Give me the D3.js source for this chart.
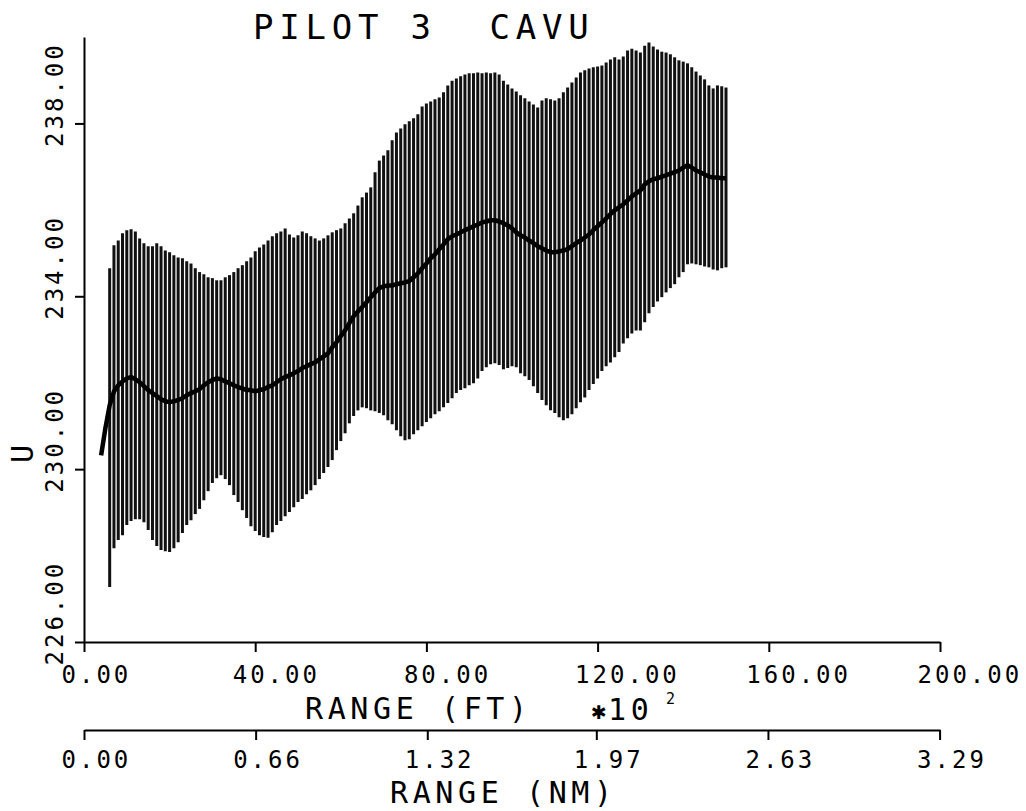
<!DOCTYPE html>
<html>
<head>
<meta charset="utf-8">
<script src="https://cdn.jsdelivr.net/npm/d3@7"></script>
<style>
  html, body { margin: 0; padding: 0; background: #fff; }
  svg { display: block; }
  .plot-text { font-family: "DejaVu Sans Mono", "Liberation Mono", monospace; fill: #000; }
  .axis path, .axis line { stroke: #000; stroke-width: 2; }
  .axis text { font-family: "DejaVu Sans Mono", "Liberation Mono", monospace; font-size: 24px; letter-spacing: 3px; fill: #000; }
</style>
</head>
<body>
<svg id="chart" width="1026" height="811"></svg>
<script>
// Range samples, one every 100 ft (range axis is in units of 100 ft).
const firstBarRange = 6;
const firstMeanRange = 4;

// Top of each vertical spread line, U values.
const upperU = [
  234.65, 235.18, 235.29, 235.46, 235.53, 235.55, 235.50, 235.34, 235.23, 235.16,
  235.16, 235.23, 235.16, 235.06, 235.02, 234.95, 234.90, 234.88, 234.81, 234.76,
  234.65, 234.56, 234.51, 234.44, 234.42, 234.37, 234.37, 234.44, 234.49, 234.56,
  234.65, 234.72, 234.81, 234.90, 235.04, 235.13, 235.20, 235.29, 235.39, 235.46,
  235.50, 235.57, 235.43, 235.36, 235.41, 235.50, 235.46, 235.39, 235.34, 235.29,
  235.34, 235.41, 235.48, 235.53, 235.57, 235.69, 235.80, 235.92, 236.10, 236.29,
  236.40, 236.52, 236.87, 237.14, 237.26, 237.38, 237.61, 237.79, 237.88, 237.98,
  238.05, 238.12, 238.21, 238.39, 238.46, 238.51, 238.56, 238.60, 238.72, 238.88,
  238.99, 239.04, 239.09, 239.13, 239.16, 239.16, 239.18, 239.16, 239.18, 239.16,
  239.18, 239.13, 238.99, 238.90, 238.81, 238.74, 238.65, 238.58, 238.51, 238.44,
  238.37, 238.53, 238.58, 238.56, 238.53, 238.58, 238.72, 238.83, 238.95, 239.06,
  239.18, 239.23, 239.27, 239.30, 239.32, 239.34, 239.41, 239.48, 239.53, 239.48,
  239.55, 239.69, 239.73, 239.69, 239.64, 239.80, 239.87, 239.78, 239.71, 239.66,
  239.64, 239.60, 239.53, 239.46, 239.43, 239.39, 239.30, 239.20, 239.11, 239.02,
  238.88, 238.81, 238.88, 238.86, 238.83
];

// Bottom of each vertical spread line, U values.
const lowerU = [
  227.27, 228.17, 228.36, 228.47, 228.71, 228.80, 228.84, 228.84, 228.77, 228.59,
  228.36, 228.22, 228.13, 228.10, 228.08, 228.17, 228.31, 228.52, 228.71, 228.82,
  228.96, 229.08, 229.28, 229.49, 229.68, 229.79, 229.86, 229.77, 229.63, 229.40,
  229.24, 229.05, 228.87, 228.68, 228.57, 228.47, 228.43, 228.41, 228.54, 228.71,
  228.80, 228.91, 229.01, 229.12, 229.24, 229.31, 229.42, 229.51, 229.63, 229.77,
  229.91, 230.05, 230.21, 230.44, 230.65, 230.83, 231.06, 231.23, 231.36, 231.43,
  231.41, 231.36, 231.34, 231.30, 231.25, 231.13, 231.04, 230.90, 230.76, 230.67,
  230.69, 230.81, 230.90, 230.99, 231.09, 231.18, 231.27, 231.34, 231.43, 231.53,
  231.64, 231.76, 231.83, 231.87, 231.94, 231.99, 232.10, 232.27, 232.36, 232.43,
  232.45, 232.41, 232.31, 232.34, 232.38, 232.36, 232.22, 232.15, 232.06, 231.92,
  231.76, 231.60, 231.48, 231.36, 231.30, 231.20, 231.13, 231.18, 231.27, 231.41,
  231.55, 231.66, 231.83, 231.97, 232.10, 232.27, 232.38, 232.47, 232.59, 232.71,
  232.91, 233.03, 233.14, 233.21, 233.21, 233.40, 233.61, 233.75, 233.88, 233.98,
  234.09, 234.19, 234.28, 234.44, 234.56, 234.74, 234.76, 234.74, 234.72, 234.69,
  234.67, 234.62, 234.60, 234.65, 234.67
];

// Mean U along the run.
const meanU = [
  230.32, 230.95, 231.48, 231.80, 231.94, 232.03, 232.10, 232.13, 232.08, 232.01,
  231.92, 231.83, 231.76, 231.69, 231.62, 231.57, 231.55, 231.57, 231.60, 231.64,
  231.71, 231.76, 231.80, 231.85, 231.94, 232.01, 232.06, 232.10, 232.08, 232.03,
  231.99, 231.94, 231.90, 231.87, 231.83, 231.83, 231.80, 231.83, 231.85, 231.90,
  231.94, 232.01, 232.08, 232.13, 232.17, 232.22, 232.27, 232.34, 232.38, 232.43,
  232.47, 232.54, 232.61, 232.68, 232.82, 232.94, 233.08, 233.21, 233.38, 233.54,
  233.65, 233.75, 233.86, 233.98, 234.09, 234.19, 234.23, 234.25, 234.25, 234.28,
  234.30, 234.32, 234.35, 234.44, 234.53, 234.65, 234.76, 234.88, 234.97, 235.09,
  235.20, 235.32, 235.39, 235.43, 235.48, 235.53, 235.57, 235.62, 235.66, 235.71,
  235.73, 235.76, 235.76, 235.73, 235.69, 235.64, 235.57, 235.48, 235.41, 235.36,
  235.29, 235.23, 235.16, 235.11, 235.06, 235.02, 235.02, 235.04, 235.06, 235.09,
  235.16, 235.23, 235.29, 235.36, 235.43, 235.53, 235.62, 235.71, 235.80, 235.90,
  235.99, 236.06, 236.13, 236.22, 236.31, 236.38, 236.45, 236.59, 236.66, 236.71,
  236.73, 236.77, 236.80, 236.84, 236.87, 236.91, 236.98, 237.03, 236.98, 236.91,
  236.87, 236.82, 236.77, 236.75, 236.75, 236.73, 236.73
];

// Axis ticks
const rangeFtTicks = [0, 40, 80, 120, 160, 200];
const rangeNmTicks = [0, 0.66, 1.32, 1.97, 2.63, 3.29];
const uTicks = [226, 230, 234, 238];

const svg = d3.select('#chart');

// Scales. The nautical-mile axis spans the same 20000 ft.
const x = d3.scaleLinear().domain([0, 200]).range([84, 940]);
const xNm = d3.scaleLinear().domain([0, 20000 / 6076.1]).range([84, 940]);
const y = d3.scaleLinear().domain([226, 240]).range([642, 37]);

// Vertical spread lines
svg.append('g')
  .selectAll('line')
  .data(upperU)
  .join('line')
    .attr('x1', (d, i) => { return x(firstBarRange + i); })
    .attr('x2', (d, i) => { return x(firstBarRange + i); })
    .attr('y1', (d) => { return y(d); })
    .attr('y2', (d, i) => { return y(lowerU[i]); })
    .attr('stroke', '#111')
    .attr('stroke-width', 3);

// Mean line
const meanLine = d3.line()
  .x((d, i) => { return x(firstMeanRange + i); })
  .y((d) => { return y(d); });

svg.append('path')
  .datum(meanU)
  .attr('d', meanLine)
  .attr('fill', 'none')
  .attr('stroke', '#000')
  .attr('stroke-width', 4.5)
  .attr('stroke-linejoin', 'round');

// Range (FT) axis
const ftAxis = svg.append('g')
  .attr('class', 'axis')
  .attr('transform', 'translate(0,642)')
  .call(d3.axisBottom(x).tickValues(rangeFtTicks).tickSize(10).tickSizeOuter(0)
    .tickFormat(d3.format('.2f')));
ftAxis.selectAll('text')
  .attr('text-anchor', 'start')
  .attr('x', -23)
  .attr('y', 41)
  .attr('dy', 0);

// Range (NM) axis
const nmAxis = svg.append('g')
  .attr('class', 'axis')
  .attr('transform', 'translate(0,730)')
  .call(d3.axisBottom(xNm).tickValues(rangeNmTicks).tickSize(10).tickSizeOuter(0)
    .tickFormat(d3.format('.2f')));
nmAxis.selectAll('text')
  .attr('text-anchor', 'start')
  .attr('x', -23)
  .attr('y', 38)
  .attr('dy', 0);

// U axis, labels run bottom to top
const uAxis = svg.append('g')
  .attr('class', 'axis')
  .attr('transform', 'translate(84,0)')
  .call(d3.axisLeft(y).tickValues(uTicks).tickSize(9).tickSizeOuter(0)
    .tickFormat(d3.format('.2f')));
uAxis.selectAll('text')
  .attr('text-anchor', 'start')
  .attr('transform', 'rotate(-90)')
  .attr('x', -23)
  .attr('y', -21)
  .attr('dy', 0);

// Titles and axis names
svg.append('text')
  .attr('class', 'plot-text')
  .attr('x', 253)
  .attr('y', 39)
  .style('font-size', '34px')
  .style('letter-spacing', '5.8px')
  .style('white-space', 'pre')
  .text('PILOT 3  CAVU');

svg.append('text')
  .attr('class', 'plot-text')
  .attr('x', 305)
  .attr('y', 719)
  .style('font-size', '30px')
  .style('letter-spacing', '4.6px')
  .style('white-space', 'pre')
  .text('RANGE (FT)');

// Multiplier marker: heavy asterisk, then 10 and a raised 2
svg.append('text')
  .attr('x', 591)
  .attr('y', 719)
  .style('font-family', '"DejaVu Sans", sans-serif')
  .style('font-size', '19px')
  .text('\u2731');

svg.append('text')
  .attr('class', 'plot-text')
  .attr('x', 608)
  .attr('y', 720)
  .style('font-size', '30px')
  .style('letter-spacing', '4.6px')
  .text('10');

svg.append('text')
  .attr('class', 'plot-text')
  .attr('x', 666)
  .attr('y', 704)
  .style('font-size', '15px')
  .text('2');

svg.append('text')
  .attr('class', 'plot-text')
  .attr('x', 390)
  .attr('y', 803)
  .style('font-size', '30px')
  .style('letter-spacing', '4.6px')
  .style('white-space', 'pre')
  .text('RANGE (NM)');

svg.append('text')
  .attr('class', 'plot-text')
  .attr('transform', 'translate(33,463) rotate(-90)')
  .style('font-size', '30px')
  .text('U');
</script>
</body>
</html>
